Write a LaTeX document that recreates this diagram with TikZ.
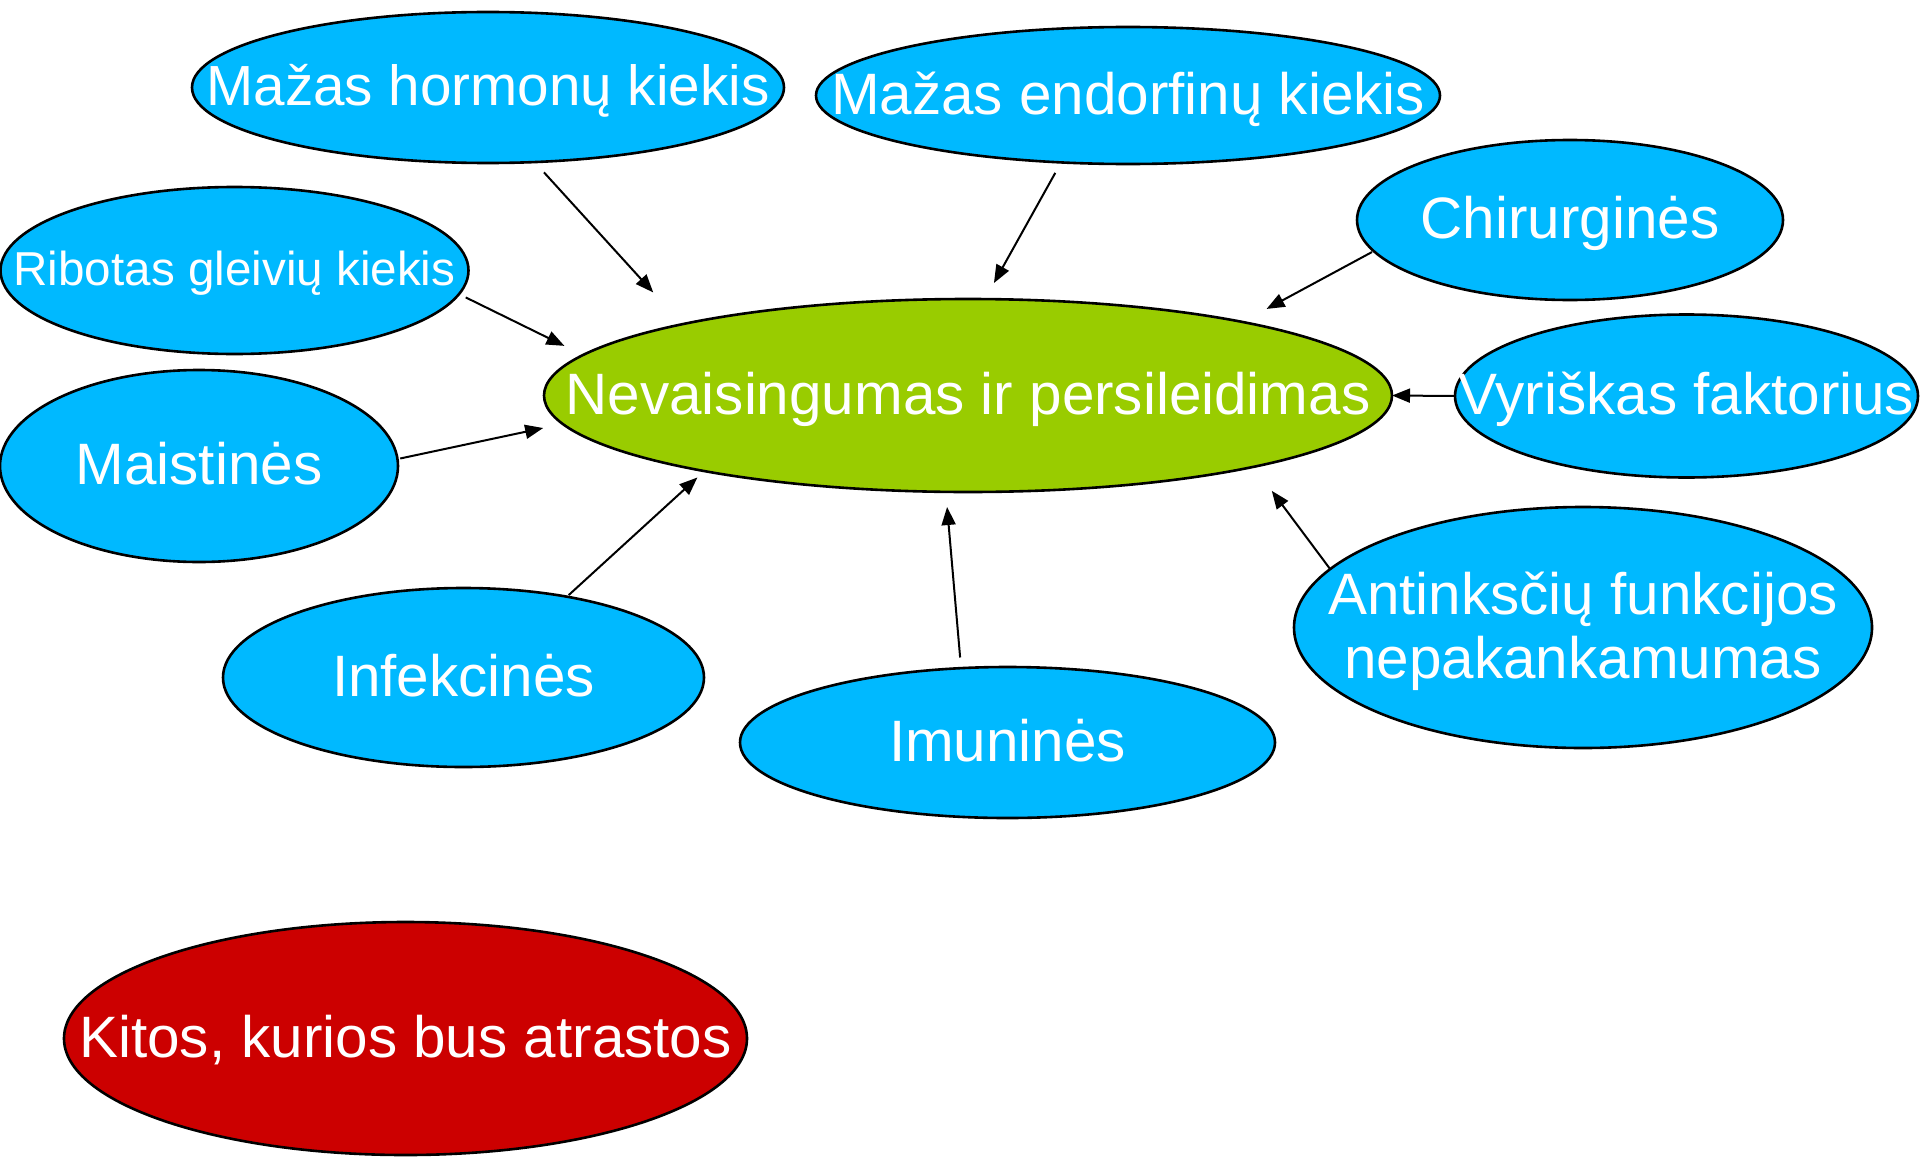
\documentclass[tikz,border=0pt]{standalone}
\usepackage{fontspec}
\setmainfont{Liberation Sans}
\usetikzlibrary{shapes.geometric,arrows.meta}
\definecolor{causeblue}{RGB}{0,185,255}
\definecolor{centergreen}{RGB}{153,204,0}
\definecolor{otherred}{RGB}{204,0,0}
\newcommand{\cbox}[1]{\makebox[0pt]{\rule[-0.21em]{0pt}{1.054em}#1}}
\begin{document}
\begin{tikzpicture}[
            x=0.5pt, y=-0.5pt,
            bubble/.style={ellipse, draw=black, line width=1.3pt, inner sep=0pt, outer sep=0pt,
                    text=white, font=\fontsize{29.2}{33.8}\selectfont},
            cause/.style={bubble, fill=causeblue},
            arr/.style={-{Triangle[length=9pt,width=7pt]}, line width=1pt}
        ]
        \useasboundingbox (0,0) rectangle (1920,1156);
        \node[bubble, fill=centergreen, minimum width=424pt, minimum height=96.5pt] (center) at (968,395.5) {\cbox{Nevaisingumas ir persileidimas}};
        \node[cause, minimum width=296pt, minimum height=75.5pt, font=\fontsize{28.3}{33}\selectfont] (horm) at (488,87.5) {\cbox{Mažas hormonų kiekis}};
        \node[cause, minimum width=312pt, minimum height=68.5pt] (endo) at (1128,95.5) {\cbox{Mažas endorfinų kiekis}};
        \node[cause, minimum width=213pt, minimum height=80pt] (chir) at (1570,220) {\cbox{Chirurginės}};
        \node[cause, minimum width=234pt, minimum height=83.5pt, font=\fontsize{23.8}{28}\selectfont] (ribo) at (234.5,270.5) {\cbox{Ribotas gleivių kiekis}};
        \node[cause, minimum width=231.5pt, minimum height=81.5pt] (vyr) at (1686.5,396) {\cbox{Vyriškas faktorius}};
        \node[cause, minimum width=199pt, minimum height=96pt] (mais) at (199,466) {\cbox{Maistinės}};
        \node[cause, minimum width=240.5pt, minimum height=89.5pt] (infe) at (463.5,677.5) {\cbox{Infekcinės}};
        \node[cause, minimum width=267.5pt, minimum height=75.5pt] (imun) at (1007.5,742.5) {\cbox{Imuninės}};
        \node[cause, minimum width=289pt, minimum height=120.5pt, font=\fontsize{29.2}{32}\selectfont] (anti) at (1583,627.5)
            {\makebox[0pt]{\raisebox{6.75pt}[0pt][0pt]{\begin{tabular}[t]{@{}c@{}}Antinksčių funkcijos\\nepakankamumas\end{tabular}}}};
        \node[bubble, fill=otherred, minimum width=341.5pt, minimum height=116.5pt] (kitos) at (405.5,1038.5) {\cbox{Kitos, kurios bus atrastos}};

        \draw[arr, shorten <=7pt, shorten >=21.5pt] (horm.-58) -- (center.166);
        \draw[arr, shorten <=6pt, shorten >=9.2pt] (endo.225) -- (center.80);
        \draw[arr, shorten <=1pt, shorten >=13.7pt] (chir.189.3) -- (center.15.2);
        \draw[arr, shorten <=3.75pt, shorten >=10.4pt] (ribo.-6.7) -- (center.174.4);
        \draw[arr] (vyr.west) -- (center.east);
        \draw[arr, shorten <=1.4pt, shorten >=10pt] (mais.2.4) -- (center.-176.1);
        \draw[arr, shorten <=1.2pt, shorten >=4.75pt] (infe.38.2) -- (center.-164.9);
        \draw[arr, shorten <=5.35pt, shorten >=7.6pt] (imun.122.3) -- (center.-103.6);
        \draw[arr, shorten >=15pt] (anti.167.6) -- (center.-14.65);
    \end{tikzpicture}
\end{document}
